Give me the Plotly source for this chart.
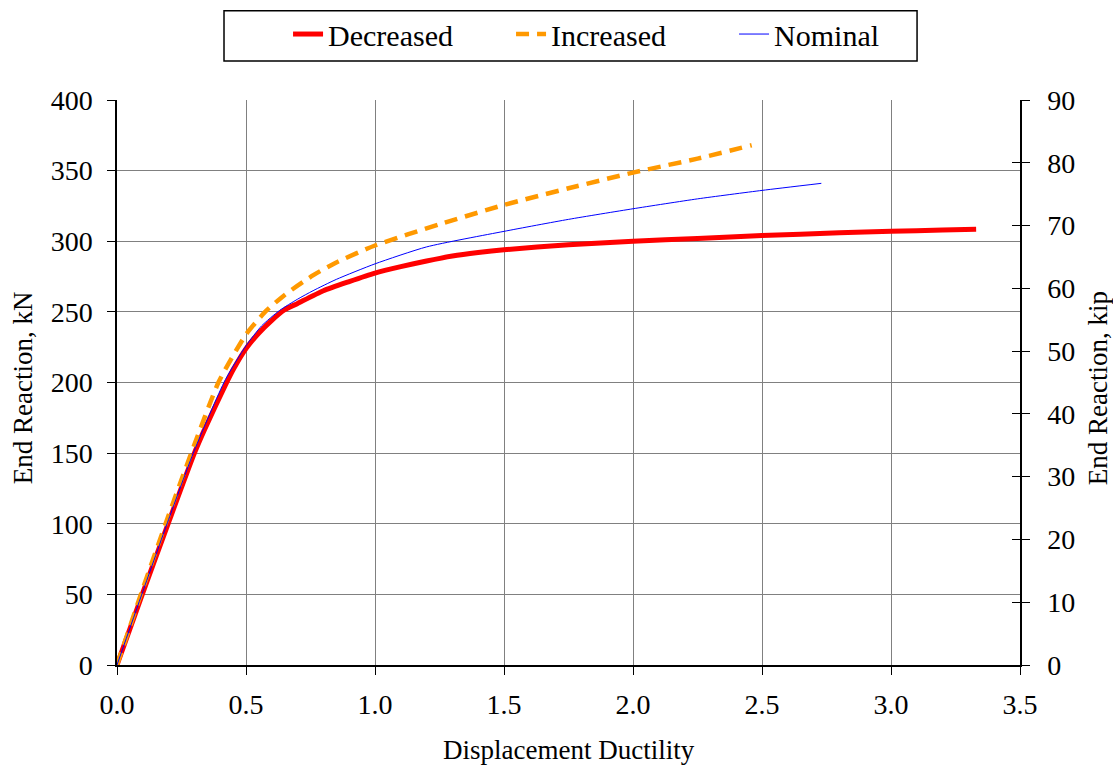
import plotly.graph_objects as go

# Data (displacement ductility vs end reaction, kN)
dec_x = [0, 0.1, 0.2, 0.3, 0.34, 0.425, 0.45, 0.5, 0.55, 0.6, 0.65, 0.7, 0.8, 0.9, 1.0, 1.1, 1.2, 1.3, 1.4, 1.5, 1.75, 2.0, 2.25, 2.5, 2.8, 3.0, 3.2, 3.33]
dec_y = [0, 51, 101, 150, 167, 200, 209, 224, 235, 244, 251.5, 256, 265, 271.5, 277.5, 282, 286, 289.5, 292, 294, 297.5, 300, 302, 304, 306, 307, 308, 308.5]

inc_x = [0, 0.1, 0.2, 0.3, 0.393, 0.45, 0.5, 0.574, 0.65, 0.761, 0.85, 1.0, 1.25, 1.5, 1.75, 2.0, 2.25, 2.46]
inc_y = [0, 54, 106, 156, 200, 219, 234, 250, 262, 276, 285, 297, 312, 325.7, 337.5, 348.6, 358.5, 368]

nom_x = [0, 0.1, 0.2, 0.3, 0.42, 0.5, 0.56, 0.63, 0.7, 0.76, 0.85, 1.0, 1.2, 1.5, 1.75, 2.0, 2.25, 2.5, 2.73]
nom_y = [0, 52, 103, 152, 202, 226, 240, 251, 259, 265, 273, 284, 296, 307, 315.5, 323, 330, 336, 341]

KN_PER_KIP = 4.448
series_names = ["Decreased", "Increased", "Nominal"]
x_title = "Displacement Ductility"
y_title = "End Reaction, kN"
y2_title = "End Reaction, kip"

FONT = "Liberation Serif, Times New Roman, serif"

fig = go.Figure()
fig.add_trace(go.Scatter(x=dec_x, y=dec_y, mode="lines", name=series_names[0],
                         line=dict(color="#FF0000", width=5, shape="spline", smoothing=0.6)))
fig.add_trace(go.Scatter(x=inc_x, y=inc_y, mode="lines", name=series_names[1],
                         line=dict(color="#FF9900", width=4.5, dash="13px,8px",
                                   shape="spline", smoothing=0.6)))
fig.add_trace(go.Scatter(x=nom_x, y=nom_y, mode="lines", name=series_names[2],
                         line=dict(color="#0000FF", width=1, shape="spline", smoothing=0.6)))
# Same nominal data expressed in kip, invisible, so that the kip axes are drawn
nom_kip = [v / KN_PER_KIP for v in nom_y]
for ax in ["y2", "y3"]:
    fig.add_trace(go.Scatter(x=nom_x, y=nom_kip, yaxis=ax, mode="lines",
                             line=dict(color="rgba(0,0,0,0)", width=0),
                             showlegend=False, hoverinfo="skip"))

axis_common = dict(showline=True, linecolor="black", linewidth=1.5,
                   tickfont=dict(family=FONT, size=28, color="black"),
                   zeroline=False)

fig.update_layout(
    width=1113, height=765,
    margin=dict(l=117, r=93, t=100, b=100),
    plot_bgcolor="white", paper_bgcolor="white",
    font=dict(family=FONT, color="black"),
    xaxis=dict(range=[0, 3.5], dtick=0.5, tickformat=".1f",
               showgrid=True, gridcolor="#808080", gridwidth=1,
               ticks="outside", ticklen=8, tickcolor="black",
               ticklabelstandoff=6, **axis_common),
    yaxis=dict(range=[0, 400], dtick=50,
               showgrid=True, gridcolor="#808080", gridwidth=1,
               ticks="outside", ticklen=8, tickcolor="black",
               ticklabelstandoff=9, **axis_common),
    yaxis2=dict(range=[0, 90], dtick=10, overlaying="y", side="right", anchor="x",
                showgrid=False, ticks="outside", ticklen=8, tickcolor="black",
                ticklabelstandoff=12, **axis_common),
    yaxis3=dict(range=[0, 90], dtick=10, overlaying="y", side="right", anchor="x",
                showgrid=False, ticks="inside", ticklen=8, tickcolor="black",
                showticklabels=False, showline=True, linecolor="black", linewidth=1.5,
                zeroline=False),
    legend=dict(orientation="h", xref="container", yref="container",
                x=0.2588, xanchor="left", y=0.9895, yanchor="top",
                borderwidth=0, bgcolor="rgba(0,0,0,0)",
                font=dict(family=FONT, size=30, color="black"),
                entrywidth=178),
    showlegend=True,
    shapes=[
        dict(type="rect", xref="paper", yref="paper",
             x0=0.1185, x1=0.886, y0=1.069, y1=1.158,
             line=dict(color="black", width=1.5), fillcolor="white", layer="below"),
    ],
    annotations=[
        dict(text=x_title, xref="paper", yref="paper", x=0.5, y=-0.150,
             xanchor="center", yanchor="middle", showarrow=False,
             font=dict(family=FONT, size=27, color="black")),
        dict(text=y_title, xref="paper", yref="paper", x=-0.104, y=0.49,
             xanchor="center", yanchor="middle", textangle=-90, showarrow=False,
             font=dict(family=FONT, size=27, color="black")),
        dict(text=y2_title, xref="paper", yref="paper", x=1.0864, y=0.49,
             xanchor="center", yanchor="middle", textangle=-90, showarrow=False,
             font=dict(family=FONT, size=27, color="black")),
    ],
)

# remove the default page margin so the figure fills the window exactly
fig.write_html("out.html", config={"displayModeBar": False},
               post_script="document.body.style.margin='0';")
